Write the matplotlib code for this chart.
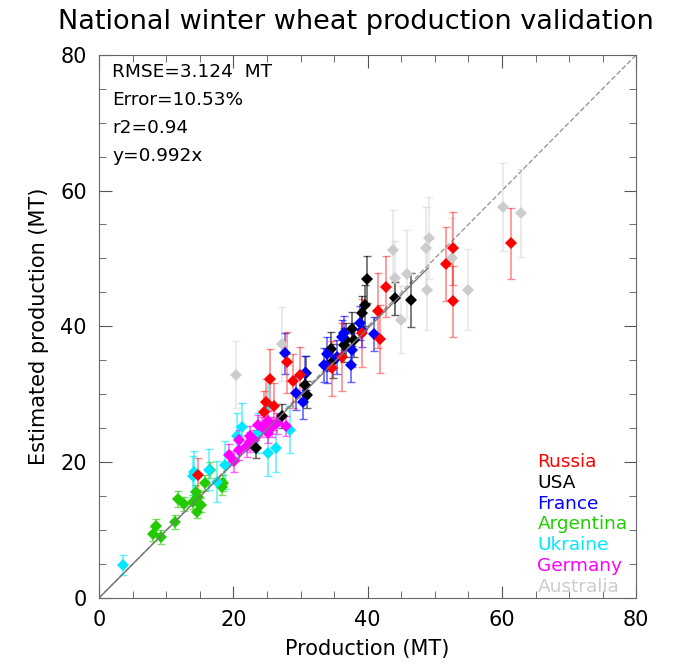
import numpy as np
import matplotlib
matplotlib.use("Agg")
import matplotlib.pyplot as plt
from matplotlib.ticker import MultipleLocator

# values: (production, estimate, error half-width)
russia_x = [14.8, 24.5, 24.8, 26.1, 25.5, 28.0, 28.9, 29.9, 34.7, 36.2, 39.2, 41.9, 41.5, 42.8, 51.7, 52.7, 52.7, 61.3]
russia_y = [18.1, 27.4, 28.8, 28.2, 32.2, 34.7, 31.9, 32.9, 33.8, 35.5, 39.0, 38.1, 42.3, 45.8, 49.2, 51.5, 43.7, 52.2]
russia_e = [2.5, 3.0, 3.5, 3.5, 4.5, 4.5, 4.0, 4.0, 4.0, 5.0, 5.0, 5.0, 5.5, 4.5, 5.5, 5.4, 5.2, 5.2]

usa_x = [23.3, 27.3, 30.8, 30.7, 31.0, 34.8, 34.6, 36.4, 36.7, 37.7, 38.0, 39.1, 39.6, 39.9, 44.0, 46.5]
usa_y = [22.1, 26.8, 33.1, 31.4, 29.9, 34.9, 36.7, 37.3, 38.0, 39.6, 38.0, 41.9, 43.1, 46.9, 44.1, 43.9]
usa_e = [1.5, 1.8, 2.5, 2.0, 2.0, 2.5, 2.5, 2.5, 2.5, 2.5, 2.5, 2.5, 3.0, 3.5, 2.5, 4.0]

france_x = [27.7, 29.3, 30.4, 30.7, 33.5, 33.9, 34.0, 35.4, 36.2, 36.5, 37.5, 37.7, 38.9, 39.1, 41.0]
france_y = [36.0, 30.2, 28.8, 33.1, 34.3, 35.9, 34.2, 35.5, 38.5, 39.0, 34.3, 36.5, 40.5, 39.5, 38.9]
france_e = [3.0, 2.5, 2.5, 2.5, 2.5, 2.5, 2.5, 2.5, 2.5, 2.5, 2.5, 2.5, 2.5, 2.5, 2.5]

argentina_x = [8.4, 8.0, 9.2, 11.3, 11.8, 12.6, 14.0, 14.5, 14.7, 15.1, 14.6, 15.8, 16.5, 18.4, 18.3]
argentina_y = [10.6, 9.4, 9.0, 11.2, 14.6, 13.8, 14.1, 15.6, 14.9, 13.7, 12.7, 16.9, 18.8, 16.9, 16.4]
argentina_e = [1.0, 1.0, 1.0, 1.0, 1.2, 1.0, 1.0, 1.0, 1.0, 1.0, 1.0, 1.2, 1.2, 1.2, 1.2]

ukraine_x = [3.5, 14.1, 14.0, 16.3, 17.5, 18.8, 20.5, 21.3, 25.2, 26.4, 28.4, 25.1, 23.7]
ukraine_y = [4.8, 18.6, 17.9, 18.9, 17.1, 19.6, 23.8, 25.2, 21.4, 22.1, 24.8, 28.6, 24.3]
ukraine_e = [1.5, 3.0, 3.0, 3.0, 3.0, 3.5, 3.5, 3.5, 3.5, 3.5, 3.5, 3.5, 3.0]

germany_x = [19.3, 20.1, 20.8, 20.8, 22.0, 22.4, 22.5, 23.1, 23.7, 24.2, 25.2, 25.2, 25.7, 26.5, 27.9]
germany_y = [21.1, 20.1, 21.8, 23.3, 22.3, 23.0, 23.8, 23.3, 25.5, 25.2, 26.0, 24.3, 25.2, 25.7, 25.3]
germany_e = [1.5] * 15

australia_x = [20.4, 27.2, 43.7, 44.1, 45.9, 44.9, 48.8, 48.7, 49.1, 52.5, 55.0, 60.1, 62.9]
australia_y = [32.9, 37.4, 51.2, 47.1, 47.7, 41.0, 45.4, 51.6, 53.0, 50.0, 45.4, 57.6, 56.7]
australia_e = [5.0, 5.5, 6.0, 5.5, 6.5, 5.0, 6.0, 6.0, 6.0, 6.0, 6.0, 6.5, 6.5]

countries = ["Russia", "USA", "France", "Argentina", "Ukraine", "Germany", "Australia"]
colors = ["#ff0000", "#000000", "#0000ff", "#22cc00", "#00e8ff", "#ff00ff", "#cccccc"]
series = [
    (russia_x, russia_y, russia_e),
    (usa_x, usa_y, usa_e),
    (france_x, france_y, france_e),
    (argentina_x, argentina_y, argentina_e),
    (ukraine_x, ukraine_y, ukraine_e),
    (germany_x, germany_y, germany_e),
    (australia_x, australia_y, australia_e),
]

slope = 0.992
stats = ["RMSE=3.124  MT", "Error=10.53%", "r2=0.94", "y=0.992x"]

fig = plt.figure(figsize=(6.79, 6.68), dpi=100)
ax = fig.add_axes([0.146, 0.105, 0.791, 0.813])

# draw Australia first so it sits behind
for i in [6, 3, 4, 5, 1, 2, 0]:
    x, y, e = series[i]
    ebar_alpha = 0.45 if i in (0, 6) else 0.6
    ax.errorbar(x, y, yerr=e, fmt="none", ecolor=colors[i], alpha=ebar_alpha,
                elinewidth=1.2, capsize=3, capthick=1.0, zorder=2)
    ax.plot(x, y, "D", color=colors[i], markersize=6.5, markeredgewidth=0, zorder=3)

ax.plot([0, 80], [0, 80], "--", color="#999999", lw=1.0, zorder=1)
xs = np.array([0, 49])
ax.plot(xs, slope * xs, "-", color="#777777", lw=1.0, zorder=4)

ax.set_xlim(0, 80)
ax.set_ylim(0, 80)
ax.xaxis.set_major_locator(MultipleLocator(20))
ax.yaxis.set_major_locator(MultipleLocator(20))
ax.xaxis.set_minor_locator(MultipleLocator(5))
ax.yaxis.set_minor_locator(MultipleLocator(5))
ax.tick_params(which="both", direction="in", top=True, right=True, color="#555555")
ax.tick_params(which="major", length=9, labelsize=15, pad=9)
ax.tick_params(which="minor", length=5)
for s in ax.spines.values():
    s.set_color("#666666")

ax.set_xlabel("Production (MT)", fontsize=15, labelpad=6)
ax.set_ylabel("Estimated production (MT)", fontsize=15, labelpad=8)

for k, line in enumerate(stats):
    ax.text(0.024, 0.969 - k * 0.052, line, transform=ax.transAxes,
            fontsize=13.3, va="center", ha="left")

for k, name in enumerate(countries):
    ax.text(0.816, 0.250 - k * 0.0382, name, transform=ax.transAxes,
            fontsize=13.3, va="center", ha="left", color=colors[k])

fig.text(0.085, 0.967, "National winter wheat production validation",
         fontsize=19.5, ha="left", va="center")

plt.savefig("out.png", dpi=100)
